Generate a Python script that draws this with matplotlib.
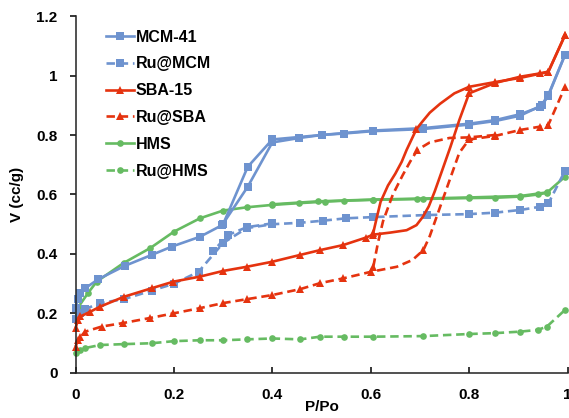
import matplotlib
matplotlib.use("Agg")
import matplotlib.pyplot as plt
from matplotlib.lines import Line2D

plt.rcParams['font.family'] = ['Liberation Sans', 'DejaVu Sans']
plt.rcParams['font.weight'] = 'bold'

# axis ticks
p_ticks = [0, 0.2, 0.4, 0.6, 0.8, 1]
p_labels = ['0', '0.2', '0.4', '0.6', '0.8', '1']
v_ticks = [0, 0.2, 0.4, 0.6, 0.8, 1, 1.2]
v_labels = ['0', '0.2', '0.4', '0.6', '0.8', '1', '1.2']

labels = ['MCM-41', 'Ru@MCM', 'SBA-15', 'Ru@SBA', 'HMS', 'Ru@HMS']

# MCM-41 (adsorption / desorption)
mcm_ads_p = [0, 0.005, 0.01, 0.02, 0.046, 0.1, 0.155, 0.196, 0.253, 0.298, 0.35, 0.40,
             0.455, 0.50, 0.545, 0.605, 0.706, 0.80, 0.853, 0.904, 0.948, 0.961, 0.995]
mcm_ads_v = [0.22, 0.25, 0.27, 0.285, 0.315, 0.36, 0.397, 0.425, 0.458, 0.497, 0.626, 0.775,
             0.79, 0.80, 0.805, 0.813, 0.82, 0.835, 0.847, 0.865, 0.90, 0.932, 1.07]
mcm_des_p = [0.995, 0.961, 0.945, 0.904, 0.853, 0.80, 0.706, 0.605, 0.50, 0.40, 0.35, 0.30]
mcm_des_v = [1.07, 0.935, 0.895, 0.87, 0.85, 0.838, 0.823, 0.815, 0.80, 0.785, 0.693, 0.50]

# Ru@MCM
rumcm_ads_p = [0, 0.01, 0.02, 0.05, 0.098, 0.155, 0.20, 0.25, 0.30, 0.348, 0.40, 0.457,
               0.503, 0.55, 0.605, 0.714, 0.80, 0.853, 0.904, 0.945, 0.961, 0.995]
rumcm_ads_v = [0.18, 0.20, 0.215, 0.235, 0.248, 0.277, 0.30, 0.34, 0.437, 0.487, 0.50, 0.505,
               0.512, 0.52, 0.524, 0.531, 0.534, 0.539, 0.548, 0.559, 0.57, 0.68]
rumcm_des_p = [0.40, 0.348, 0.31, 0.28]
rumcm_des_v = [0.503, 0.49, 0.464, 0.41]

# SBA-15
sba_ads_p = [0, 0.005, 0.01, 0.03, 0.05, 0.098, 0.155, 0.199, 0.253, 0.30, 0.348, 0.40,
             0.457, 0.497, 0.544, 0.59, 0.605, 0.64, 0.673, 0.693, 0.706, 0.718, 0.73,
             0.745, 0.762, 0.78, 0.80, 0.853, 0.904, 0.944, 0.961, 0.995]
sba_ads_v = [0.15, 0.178, 0.19, 0.206, 0.223, 0.256, 0.285, 0.307, 0.324, 0.343, 0.357, 0.374,
             0.397, 0.413, 0.43, 0.455, 0.465, 0.472, 0.48, 0.497, 0.525, 0.56, 0.61,
             0.68, 0.76, 0.85, 0.94, 0.975, 0.996, 1.007, 1.013, 1.136]
sba_ads_plain = [17, 18, 19, 20, 21, 22, 23, 24, 25]
sba_des_p = [0.995, 0.961, 0.904, 0.853, 0.80, 0.77, 0.741, 0.72, 0.705, 0.693, 0.683,
             0.673, 0.663, 0.65, 0.635, 0.62, 0.612, 0.605]
sba_des_v = [1.136, 1.012, 0.992, 0.978, 0.962, 0.94, 0.905, 0.875, 0.845, 0.82, 0.785,
             0.75, 0.71, 0.67, 0.63, 0.575, 0.52, 0.47]
sba_des_plain = [5, 6, 7, 8, 10, 11, 12, 13, 14, 15, 16]

# Ru@SBA
rusba_ads_p = [0, 0.005, 0.01, 0.02, 0.053, 0.097, 0.152, 0.198, 0.253, 0.30, 0.348, 0.40,
               0.457, 0.497, 0.544, 0.60, 0.653, 0.685, 0.707, 0.72, 0.735, 0.75, 0.765,
               0.78, 0.80, 0.853, 0.904, 0.944, 0.961, 0.995]
rusba_ads_v = [0.088, 0.11, 0.122, 0.139, 0.156, 0.168, 0.185, 0.20, 0.218, 0.235, 0.248, 0.262,
               0.282, 0.302, 0.318, 0.34, 0.357, 0.38, 0.413, 0.46, 0.53, 0.60, 0.67,
               0.74, 0.785, 0.797, 0.817, 0.828, 0.834, 0.962]
rusba_ads_plain = [16, 17, 19, 20, 21, 22, 23]
rusba_des_p = [0.853, 0.80, 0.76, 0.72, 0.695, 0.68, 0.665, 0.645, 0.625, 0.615, 0.605]
rusba_des_v = [0.80, 0.792, 0.79, 0.775, 0.75, 0.71, 0.665, 0.60, 0.51, 0.44, 0.355]
rusba_des_plain = [2, 3, 5, 6, 7, 8, 9]

# HMS
hms_ads_p = [0, 0.005, 0.026, 0.043, 0.098, 0.152, 0.20, 0.253, 0.30, 0.348, 0.40, 0.455,
             0.507, 0.545, 0.605, 0.707, 0.80, 0.853, 0.904, 0.94, 0.958, 0.995]
hms_ads_v = [0.185, 0.22, 0.27, 0.307, 0.37, 0.42, 0.475, 0.52, 0.546, 0.557, 0.565, 0.571,
             0.576, 0.579, 0.582, 0.585, 0.588, 0.589, 0.593, 0.60, 0.606, 0.66]
hms_des_p = [0.958, 0.904, 0.80, 0.694, 0.605, 0.493, 0.40]
hms_des_v = [0.607, 0.595, 0.59, 0.586, 0.583, 0.577, 0.567]

# Ru@HMS
ruhms_ads_p = [0, 0.01, 0.02, 0.05, 0.098, 0.155, 0.20, 0.253, 0.30, 0.348, 0.40, 0.457,
               0.497, 0.545, 0.605, 0.707, 0.80, 0.853, 0.904, 0.94, 0.958, 0.995]
ruhms_ads_v = [0.067, 0.078, 0.084, 0.094, 0.097, 0.10, 0.107, 0.11, 0.11, 0.113, 0.116, 0.113,
               0.122, 0.122, 0.122, 0.124, 0.131, 0.134, 0.139, 0.145, 0.156, 0.212]

blue = '#6E93CF'
red = '#E5330F'
green = '#66BB62'


def style(color, ls, marker):
    ms = {'s': 5.8, '^': 5.2, 'o': 4.8}[marker]
    return dict(color=color, linestyle=ls, lw=1.9, marker=marker, markersize=ms,
                markeredgewidth=0, solid_joinstyle='round', dash_joinstyle='round',
                dash_capstyle='butt', clip_on=False)


def draw(ax, p, v, st, plain=()):
    mark = [i not in plain for i in range(len(p))]
    line, = ax.plot(p, v, markevery=mark, **st)
    if st['linestyle'] == '--':
        line.set_dashes((3.2, 1.8))
    return line


fig = plt.figure(figsize=(5.69, 4.18), dpi=100)
ax = fig.add_axes([0.1327, 0.1077, 0.8647, 0.854])

styles = [style(blue, '-', 's'), style(blue, '--', 's'),
          style(red, '-', '^'), style(red, '--', '^'),
          style(green, '-', 'o'), style(green, '--', 'o')]

draw(ax, ruhms_ads_p, ruhms_ads_v, styles[5])
draw(ax, hms_ads_p, hms_ads_v, styles[4])
draw(ax, hms_des_p, hms_des_v, styles[4])
draw(ax, rumcm_ads_p, rumcm_ads_v, styles[1])
draw(ax, rumcm_des_p, rumcm_des_v, styles[1])
draw(ax, mcm_ads_p, mcm_ads_v, styles[0])
draw(ax, mcm_des_p, mcm_des_v, styles[0])
draw(ax, rusba_ads_p, rusba_ads_v, styles[3], rusba_ads_plain)
draw(ax, rusba_des_p, rusba_des_v, styles[3], rusba_des_plain)
draw(ax, sba_ads_p, sba_ads_v, styles[2], sba_ads_plain)
draw(ax, sba_des_p, sba_des_v, styles[2], sba_des_plain)

ax.set_xlim(0, 1)
ax.set_ylim(0, 1.2)
ax.set_xticks(p_ticks)
ax.set_xticklabels(p_labels)
ax.set_yticks(v_ticks)
ax.set_yticklabels(v_labels)
ax.tick_params(axis='x', direction='in', length=4, width=1.1, pad=11, labelsize=11)
ax.tick_params(axis='y', direction='out', length=4, width=1.1, pad=9, labelsize=11)
for side in ['top', 'right']:
    ax.spines[side].set_visible(False)
for side in ['left', 'bottom']:
    ax.spines[side].set_linewidth(1.1)
    ax.spines[side].set_color('#222222')

ax.set_xlabel('P/Po', fontsize=11, fontweight='bold', labelpad=-1.5)
ax.set_ylabel('V (cc/g)', fontsize=11, fontweight='bold', labelpad=9)

handles = []
for st in styles:
    h = Line2D([], [], **{k: v for k, v in st.items() if k != 'clip_on'})
    if st['linestyle'] == '--':
        h.set_dashes((3.2, 1.8))
    handles.append(h)
ax.legend(handles, labels, loc='upper left', bbox_to_anchor=(0.062, 0.962),
          frameon=False, fontsize=11.5, handlelength=1.75, handletextpad=0.1,
          labelspacing=0.74, borderpad=0, borderaxespad=0)

fig.savefig('out.png', dpi=100)
